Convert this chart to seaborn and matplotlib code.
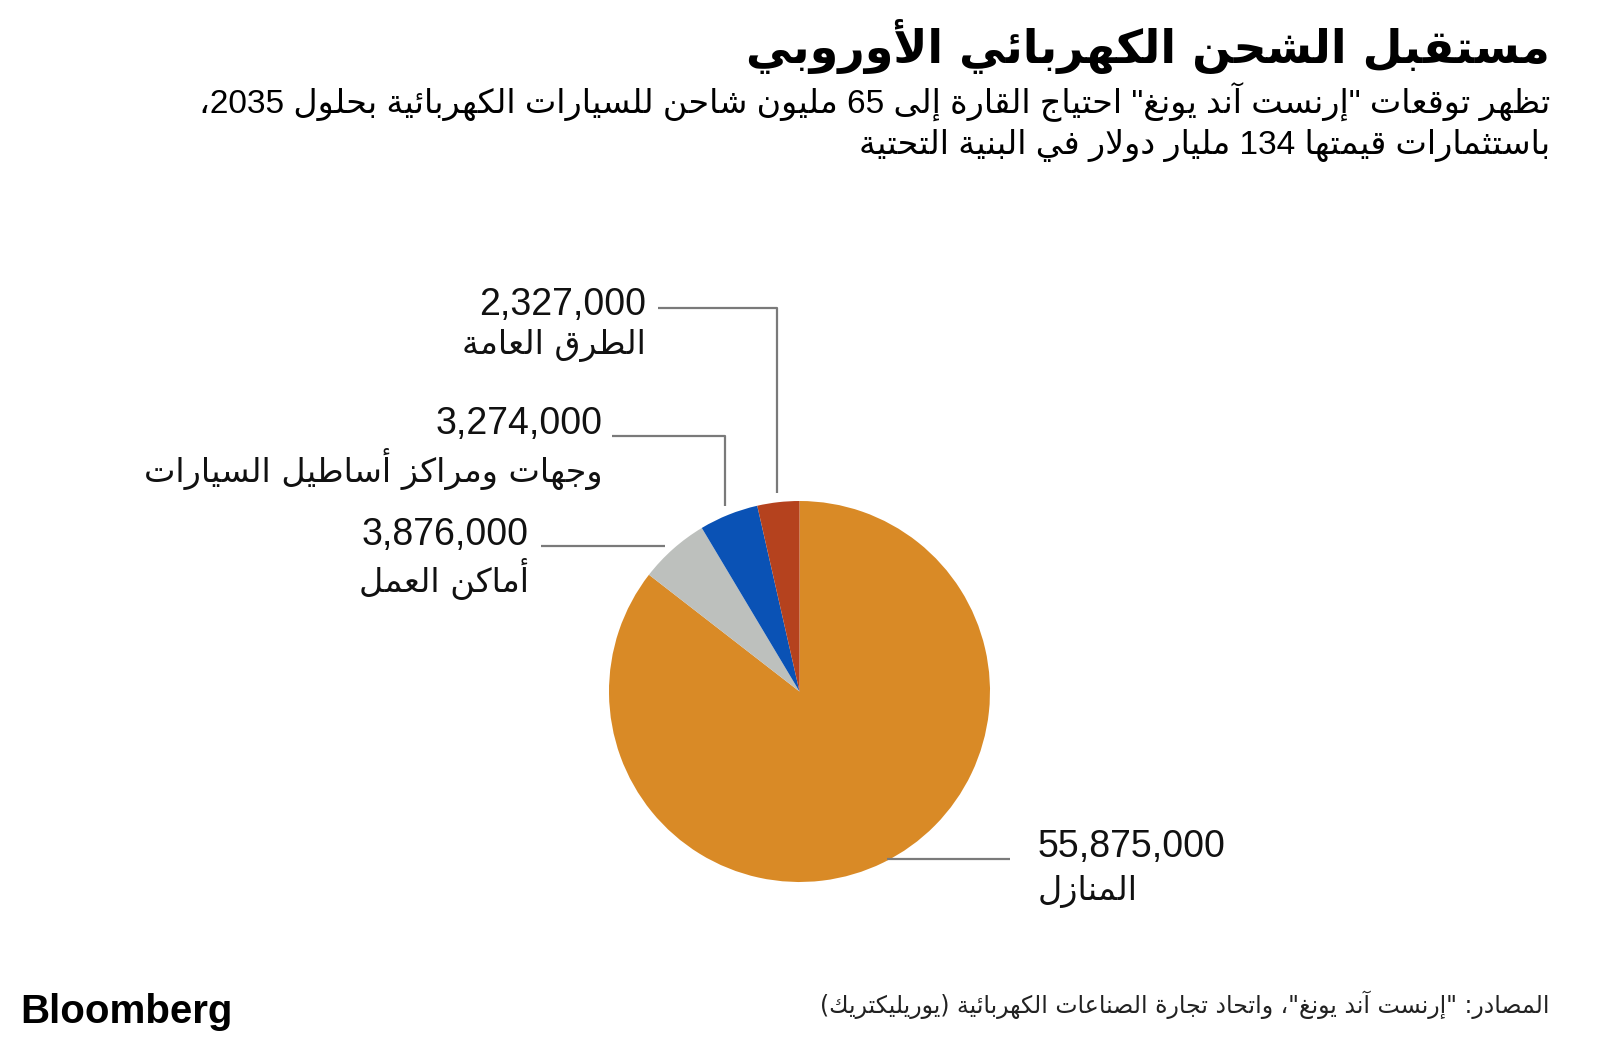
import re
import math
import matplotlib
matplotlib.use("Agg")
import matplotlib.pyplot as plt
import seaborn as sns

# ---------------- data ----------------
categories = ["المنازل", "أماكن العمل", "وجهات ومراكز أساطيل السيارات", "الطرق العامة"]
values = [55875000, 3876000, 3274000, 2327000]
value_labels = ["55,875,000", "3,876,000", "3,274,000", "2,327,000"]
colors = ["#D98A26", "#BDC0BD", "#0A52B5", "#B5421E"]

title = "مستقبل الشحن الكهربائي الأوروبي"
subtitle_lines = [
    "تُظهر توقعات \"إرنست آند يونغ\" احتياج القارة إلى 65 مليون شاحن للسيارات الكهربائية بحلول 2035،",
    "باستثمارات قيمتها 134 مليار دولار في البنية التحتية",
]
source = "المصادر: \"إرنست آند يونغ\"، واتحاد تجارة الصناعات الكهربائية (يوريليكتريك)"

# ---------------- minimal Arabic shaping + bidi ----------------
_AR = {
    'ء': (0xFE80, 1), 'آ': (0xFE81, 2), 'أ': (0xFE83, 2), 'ؤ': (0xFE85, 2),
    'إ': (0xFE87, 2), 'ئ': (0xFE89, 4), 'ا': (0xFE8D, 2), 'ب': (0xFE8F, 4),
    'ة': (0xFE93, 2), 'ت': (0xFE95, 4), 'ث': (0xFE99, 4), 'ج': (0xFE9D, 4),
    'ح': (0xFEA1, 4), 'خ': (0xFEA5, 4), 'د': (0xFEA9, 2), 'ذ': (0xFEAB, 2),
    'ر': (0xFEAD, 2), 'ز': (0xFEAF, 2), 'س': (0xFEB1, 4), 'ش': (0xFEB5, 4),
    'ص': (0xFEB9, 4), 'ض': (0xFEBD, 4), 'ط': (0xFEC1, 4), 'ظ': (0xFEC5, 4),
    'ع': (0xFEC9, 4), 'غ': (0xFECD, 4), 'ف': (0xFED1, 4), 'ق': (0xFED5, 4),
    'ك': (0xFED9, 4), 'ل': (0xFEDD, 4), 'م': (0xFEE1, 4), 'ن': (0xFEE5, 4),
    'ه': (0xFEE9, 4), 'و': (0xFEED, 2), 'ى': (0xFEEF, 2), 'ي': (0xFEF1, 4),
}
_LAMALEF = {'آ': 0xFEF5, 'أ': 0xFEF7, 'إ': 0xFEF9, 'ا': 0xFEFB}


def _is_mark(c):
    return 0x064B <= ord(c) <= 0x0652


def _shape(text):
    # harakat are dropped (matplotlib cannot position them in RTL text)
    chars = [c for c in text if not _is_mark(c)]
    out = []
    i = 0
    n = len(chars)
    while i < n:
        c = chars[i]
        if c not in _AR:
            out.append(c)
            i += 1
            continue
        prev = chars[i - 1] if i > 0 else None
        prev_joins = prev in _AR and _AR[prev][1] == 4
        if c == 'ل' and i + 1 < n and chars[i + 1] in _LAMALEF:
            out.append(chr(_LAMALEF[chars[i + 1]] + (1 if prev_joins else 0)))
            i += 2
            continue
        base, nf = _AR[c]
        nxt = chars[i + 1] if i + 1 < n else None
        next_joins = nf == 4 and nxt in _AR and _AR[nxt][1] > 1
        if nf == 1:
            code = base
        elif nf == 2:
            code = base + 1 if prev_joins else base
        else:
            if prev_joins and next_joins:
                code = base + 3
            elif prev_joins:
                code = base + 1
            elif next_joins:
                code = base + 2
            else:
                code = base
        out.append(chr(code))
        i += 1
    return "".join(out)


_MIRROR = {'(': ')', ')': '(', '[': ']', ']': '['}


def ar(text):
    s = _shape(text)
    parts = re.split(r'([0-9A-Za-z]+(?:[.,][0-9A-Za-z]+)*)', s)
    segs = []
    for k, p in enumerate(parts):
        if not p:
            continue
        if k % 2 == 1:
            segs.append(p)
        else:
            segs.append("".join(_MIRROR.get(x, x) for x in reversed(p)))
    return "".join(reversed(segs))


# ---------------- figure ----------------
sns.set_theme(style="white")
plt.rcParams["font.family"] = ["DejaVu Sans"]

W, H = 1600, 1043
fig = plt.figure(figsize=(W / 100, H / 100), dpi=100)
fig.patch.set_facecolor("white")

ov = fig.add_axes([0, 0, 1, 1])
ov.set_xlim(0, W)
ov.set_ylim(H, 0)
ov.axis("off")

cx, cy, r = 799.5, 691.5, 190.5
pax = fig.add_axes([(cx - r) / W, 1 - (cy + r) / H, 2 * r / W, 2 * r / H])
wedges, _ = pax.pie(values, colors=colors, startangle=90, counterclock=False,
                    radius=1.0, wedgeprops=dict(linewidth=0))
pax.set_xlim(-1, 1)
pax.set_ylim(-1, 1)
pax.axis("off")

# label layout: (kind, radius factor / gap, line y, line end x, text x, number y, category y, ha)
layout = [
    ("h", -3, 859, 1010, 1038, 847, 891, "left"),     # homes
    ("h", 12, 546, 541, 529, 535, 579, "right"),      # workplaces
    ("v", 1.05, 436, 612, 603, 424, 469, "right"),    # destinations/fleets
    ("v", 1.05, 308, 658, 646, 305, 346, "right"),    # public roads
]

line_color = "#7a7a7a"
num_font = ["Liberation Sans", "DejaVu Sans"]
for w, lab, cat, (kind, p, ly, lx, tx, ny, cyy, ha) in zip(
        wedges, value_labels, categories, layout):
    mid = math.radians((w.theta1 + w.theta2) / 2)
    if kind == "v":
        ax_ = cx + r * p * math.cos(mid)
        ay_ = cy - r * p * math.sin(mid)
        xs, ys = [ax_, ax_, lx], [ay_, ly, ly]
    else:
        side = 1 if math.cos(mid) > 0 else -1
        edge = cx + side * math.sqrt(max(r ** 2 - (ly - cy) ** 2, 0))
        xs, ys = [edge + side * p, lx], [ly, ly]
    ov.plot(xs, ys, color=line_color, lw=1.6, solid_capstyle="butt", zorder=5)
    ov.text(tx, ny, lab, ha=ha, va="center", fontsize=27, color="#111111",
            family=num_font)
    ov.text(tx, cyy, ar(cat), ha=ha, va="center", fontsize=24, color="#111111",
            family=["DejaVu Sans"])

# draw the overlay (lines) above the pie
ov.set_zorder(2)
ov.patch.set_alpha(0)

ov.text(1550, 47, ar(title), ha="right", va="center", fontsize=33,
        fontweight="bold", color="black")
ov.text(1550, 102, ar(subtitle_lines[0]), ha="right", va="center", fontsize=24,
        color="black", family=num_font)
ov.text(1550, 145, ar(subtitle_lines[1]), ha="right", va="center", fontsize=24,
        color="black", family=num_font)

ov.text(20, 1012, "Bloomberg", ha="left", va="center", fontsize=29,
        fontweight="heavy", color="black", family=["Liberation Sans", "DejaVu Sans"])
ov.text(1550, 1005, ar(source), ha="right", va="center", fontsize=17,
        color="#222222")

fig.savefig("out.png", dpi=100, facecolor="white")
